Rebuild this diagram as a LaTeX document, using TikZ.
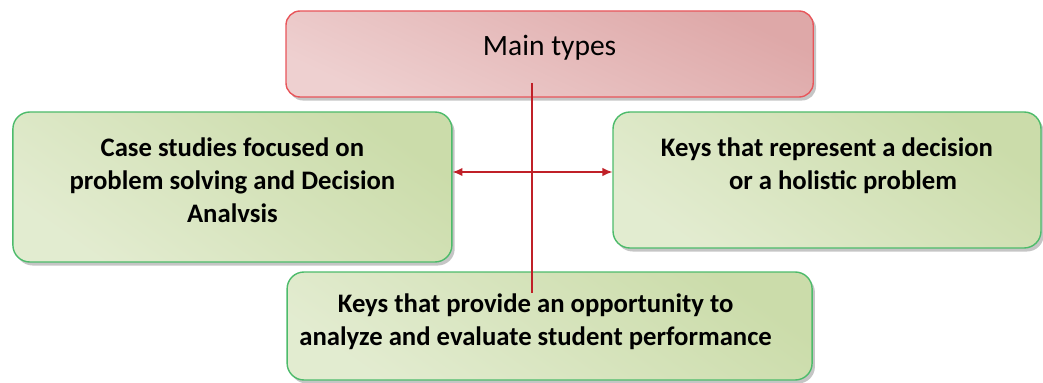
\documentclass[tikz,border=0pt]{standalone}
\usepackage{fontspec}
\setmainfont{Carlito}
\usepackage{xcolor}
\usepackage{tikz}
\usetikzlibrary{arrows,arrows.meta,shadows,positioning,calc}
\definecolor{keyline}{RGB}{77,187,107}
\definecolor{keydark}{RGB}{203,220,170}
\definecolor{keylight}{RGB}{242,246,233}
\definecolor{typeline}{RGB}{232,85,90}
\definecolor{typedark}{RGB}{222,168,168}
\definecolor{typelight}{RGB}{245,225,225}
\definecolor{stemred}{RGB}{192,32,40}
\newcommand{\lift}[1]{\rule[-#1]{0pt}{#1}}

\begin{document}
\begin{tikzpicture}[thick,
  keybox/.style={draw=keyline, line width=1pt, rounded corners=12pt,
    top color=keydark, middle color=keylight, bottom color=keylight!60!keydark, shading angle=-35,
    drop shadow={shadow xshift=2pt, shadow yshift=-2.5pt, fill=black!45, opacity=0.5},
    align=center, font=\fontsize{19}{23.5}\selectfont\bfseries},
  typebox/.style={draw=typeline, line width=1pt, rounded corners=10pt,
    top color=typedark, middle color=typelight, bottom color=typelight!70!typedark, shading angle=-25,
    drop shadow={shadow xshift=2pt, shadow yshift=-2.5pt, fill=black!45, opacity=0.5},
    align=center, font=\fontsize{21}{24}\selectfont},
  link/.style={stemred, line width=0.9pt}]
\useasboundingbox (0,0) rectangle (26.075,9.55);

%main box
\node[typebox, minimum width=13.18cm, minimum height=2.15cm] (types) at (13.74,8.2) {Main types\lift{13pt}};

%keys
\node[keybox, minimum width=10.975cm, minimum height=3.75cm] (casestudy) at (5.81,4.875) {Case studies focused on\\problem solving and Decision\\Analvsis\lift{10pt}};
\node[keybox, minimum width=10.7cm, minimum height=3.4cm] (decision) at (20.675,5.05) {Keys that represent a decision\\\hspace{1.2em}or a holistic problem\lift{23pt}};
\node[keybox, minimum width=13.125cm, minimum height=2.7cm] (evaluate) at (13.74,1.4) {\hspace{-0.7cm}Keys that provide an opportunity to\\\hspace{-0.7cm}analyze and evaluate student performance\lift{9pt}};

%connectors
\coordinate (stemtop) at (13.3,7.475);
\coordinate (stembottom) at (13.3,2.225);
\coordinate (branch) at (13.3,5.25);
\draw[link] (stemtop) -- (stembottom);
\draw[link, {Latex[length=7pt,width=6pt]}-{Latex[length=7pt,width=6pt]}] (branch -| casestudy.east) -- (branch -| decision.west);
\end{tikzpicture}
\end{document}
